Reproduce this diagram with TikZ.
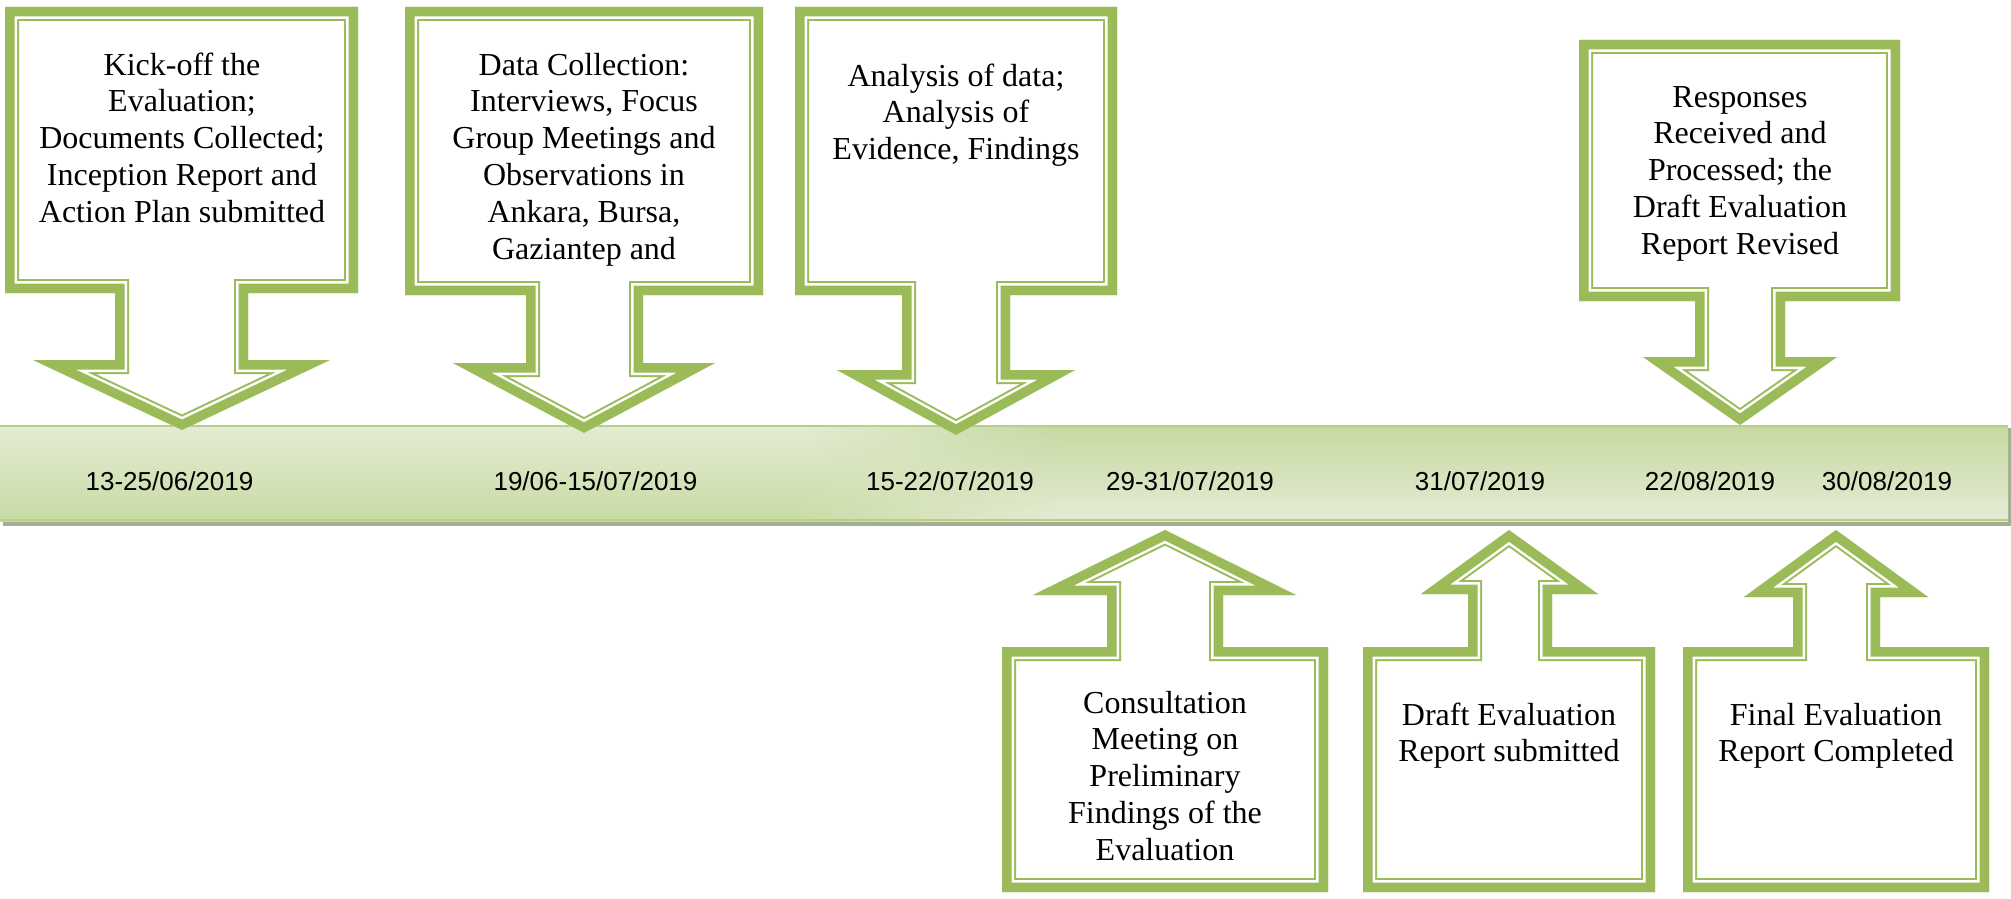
\documentclass[tikz,border=0pt]{standalone}
\usepackage{fontspec}
\setmainfont{Liberation Serif}
\newfontfamily\datefont{Liberation Sans}
\definecolor{olivegreen}{HTML}{9BBB59}
\definecolor{barLtop}{HTML}{E3ECD4}
\definecolor{barLbot}{HTML}{C9DBA4}
\definecolor{barRtop}{HTML}{C6D8A0}
\definecolor{barRbot}{HTML}{E4ECD5}
\definecolor{barline}{HTML}{B7CF8B}
\definecolor{barshadow}{HTML}{A4AE90}
\newcommand\drawcallout[1]{%
  \begin{scope}
    \clip #1;
    \fill[white] #1;
    \draw[olivegreen, line width=28pt, line join=miter] #1;
    \draw[white, line width=24pt, line join=miter] #1;
    \draw[olivegreen, line width=19pt, line join=miter] #1;
  \end{scope}}
\tikzset{
  boxtext/.style={align=center, inner sep=0pt, anchor=base, font=\fontsize{32}{36.8}\selectfont},
  datetext/.style={anchor=base, inner sep=0pt, font=\datefont\fontsize{26}{30}\selectfont},
}
\begin{document}
\begin{tikzpicture}[x=1pt, y=-1pt]
\useasboundingbox (0,0) rectangle (2011,899);
% timeline bar
\fill[barshadow] (3,519) rectangle (2011,526);
\fill[barshadow] (2005,428) rectangle (2011,526);
\shade[top color=barLtop, bottom color=barLbot] (0,425) rectangle (801,521);
\shade[top color=barRtop, bottom color=barRbot] (1060,425) rectangle (2008,521);
\foreach \i in {0,...,51} {
  \pgfmathsetmacro\p{(\i+0.5)/52*100}
  \shade[top color=barRtop!\p!barLtop, bottom color=barRbot!\p!barLbot]
    ({800+\i*5},425) rectangle ({805.6+\i*5},521);
}
\draw[barline, line width=2pt] (0,426) -- (2008,426);
\draw[barline, line width=1.5pt] (0,520) -- (2008,520);
% dates
\node[datetext] (d1) at (169.5,490) {13-25/06/2019};
\node[datetext] (d2) at (595.5,490) {19/06-15/07/2019};
\node[datetext] (d3) at (950,490) {15-22/07/2019};
\node[datetext] (d4) at (1190,490) {29-31/07/2019};
\node[datetext] (d5) at (1480,490) {31/07/2019};
\node[datetext] (d6) at (1710,490) {22/08/2019};
\node[datetext] (d7) at (1887,490) {30/08/2019};
% down callouts
\drawcallout{(5,7) -- (358,7) -- (358,293) -- (248,293) -- (248,360) -- (330,360) -- (182,430) -- (33,360) -- (115,360) -- (115,293) -- (5,293) -- cycle}
\drawcallout{(405,7) -- (763,7) -- (763,295) -- (643,295) -- (643,363) -- (715,363) -- (584,433) -- (453,363) -- (526,363) -- (526,295) -- (405,295) -- cycle}
\drawcallout{(795,7) -- (1117,7) -- (1117,295) -- (1010,295) -- (1010,370) -- (1075,370) -- (956,435) -- (837,370) -- (902,370) -- (902,295) -- (795,295) -- cycle}
\drawcallout{(1579,40) -- (1900,40) -- (1900,301) -- (1785,301) -- (1785,357) -- (1837,357) -- (1740,425) -- (1643,357) -- (1695,357) -- (1695,301) -- (1579,301) -- cycle}
% up callouts
\drawcallout{(1002,892) -- (1328,892) -- (1328,647) -- (1223,647) -- (1223,595) -- (1296,595) -- (1165,530) -- (1033,595) -- (1107,595) -- (1107,647) -- (1002,647) -- cycle}
\drawcallout{(1363,892) -- (1655,892) -- (1655,647) -- (1552,647) -- (1552,594) -- (1598,594) -- (1509,530) -- (1421,594) -- (1468,594) -- (1468,647) -- (1363,647) -- cycle}
\drawcallout{(1683,892) -- (1989,892) -- (1989,647) -- (1880,647) -- (1880,597) -- (1928,597) -- (1836,530) -- (1744,597) -- (1793,597) -- (1793,647) -- (1683,647) -- cycle}
% callout texts (anchor = baseline of the last line)
\node[boxtext] (t1) at (182,222.2) {Kick-off the\\Evaluation;\\Documents Collected;\\Inception Report and\\Action Plan submitted};
\node[boxtext] (t2) at (584,259) {Data Collection:\\Interviews, Focus\\Group Meetings and\\Observations in\\Ankara, Bursa,\\Gaziantep and};
\node[boxtext] (t3) at (956,159.6) {Analysis of data;\\Analysis of\\Evidence, Findings};
\node[boxtext] (t4) at (1740,254.2) {Responses\\Received and\\Processed; the\\Draft Evaluation\\Report Revised};
\node[boxtext] (t5) at (1165,860.2) {Consultation\\Meeting on\\Preliminary\\Findings of the\\Evaluation};
\node[boxtext] (t6) at (1509,761.8) {Draft Evaluation\\Report submitted};
\node[boxtext] (t7) at (1836,761.8) {Final Evaluation\\Report Completed};
\end{tikzpicture}
\end{document}
